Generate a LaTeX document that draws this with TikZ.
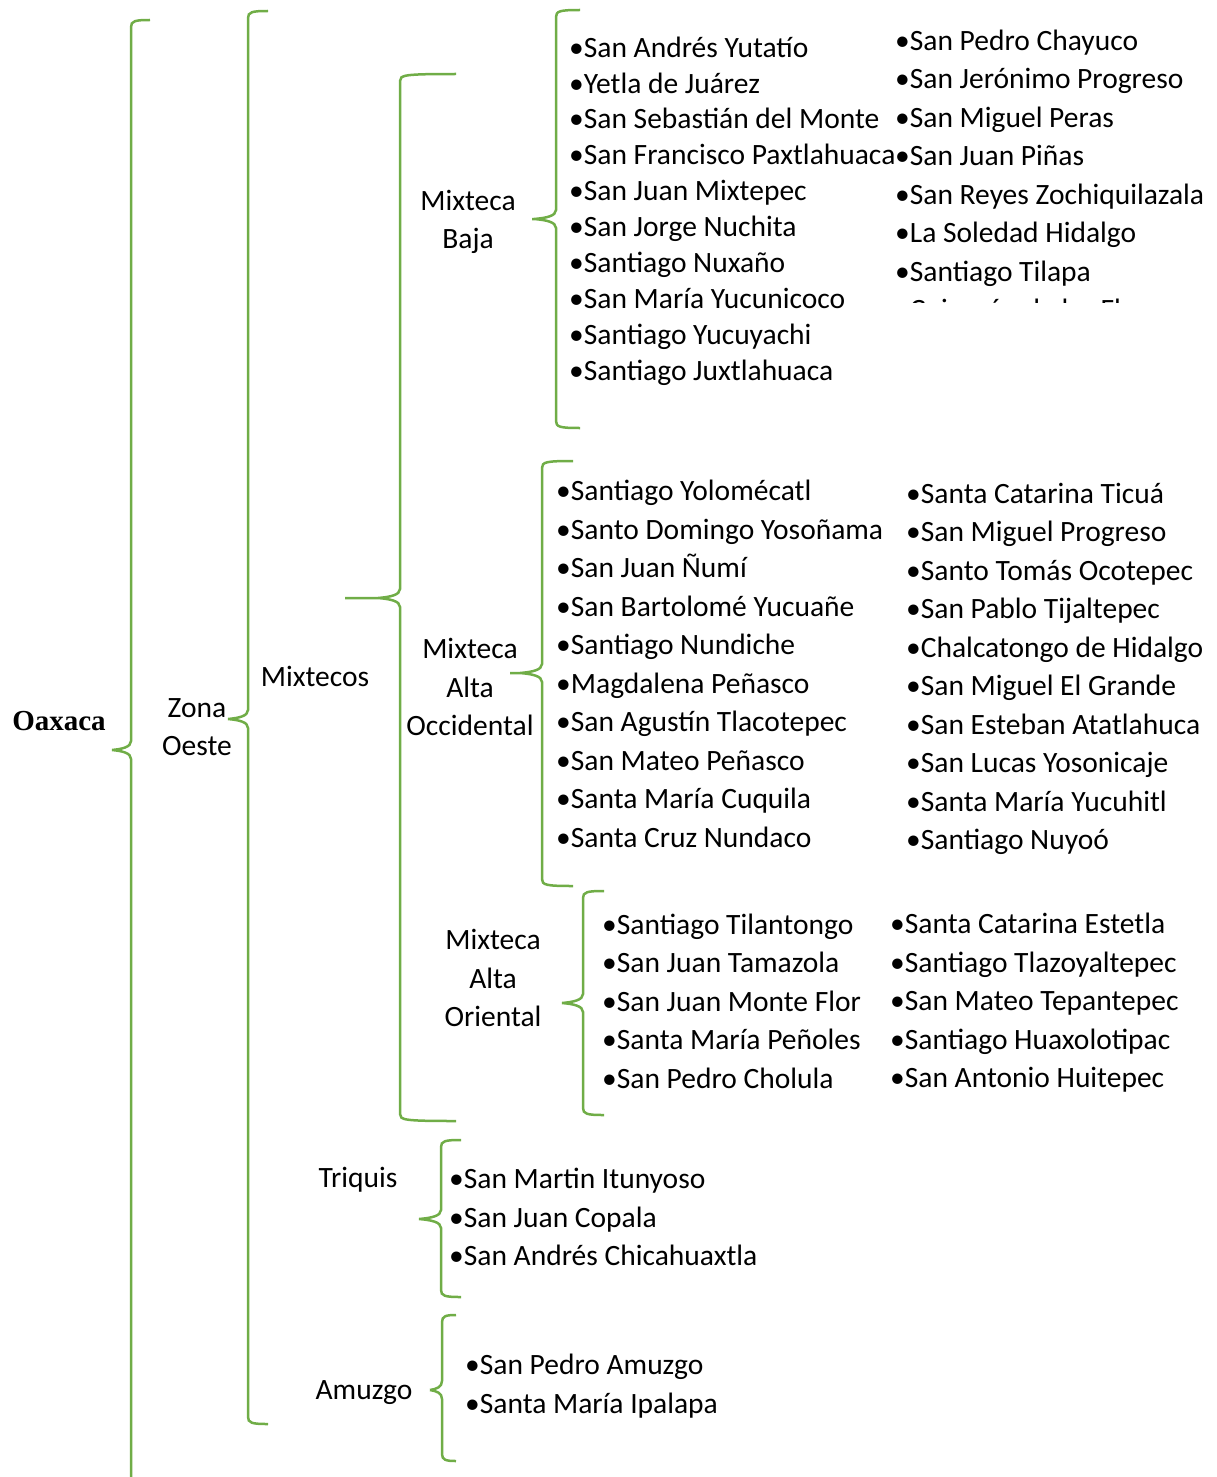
\documentclass[tikz,border=0pt]{standalone}
\usepackage{fontspec}
\setmainfont{Carlito}
\newfontfamily\serifbold{Liberation Serif}
\usetikzlibrary{positioning}
\definecolor{llaveverde}{RGB}{112,173,71}
% brace: name, x, top, tip y, bottom, hook end x, tip x
\newcommand{\llave}[7]{%
  \pgfmathsetmacro\llc{min(22,#2-#7)}%
  \coordinate (#1) at (#7,#4);
  \draw[llave] (#6,#3) .. controls ({#2+4},#3) and (#2,{#3+1}) .. (#2,{#3+7})
    -- (#2,{#4-9}) .. controls (#2,{#4-3}) and ({#2-0.45*\llc},{#4-1}) .. ({#2-\llc},#4)
    -- (#1)
    ({#2-\llc},#4) .. controls ({#2-0.45*\llc},{#4+1}) and (#2,{#4+3}) .. (#2,{#4+9})
    -- (#2,{#5-7}) .. controls (#2,{#5-1}) and ({#2+4},#5) .. (#6,#5);}

\begin{document}
\begin{tikzpicture}[x=1pt,y=-1pt,
    llave/.style={draw=llaveverde,line width=2.5pt},
    etiqueta/.style={align=center,inner sep=0pt,font=\fontsize{29.5}{38.5}\selectfont},
    lista/.style={anchor=west,align=left,inner sep=0pt,font=\fontsize{29.5}{38.5}\selectfont}]
  \useasboundingbox (0,0) rectangle (1216,1477);

  % braces
  \llave{oax}{131}{20}{750}{1500}{150}{112}
  \llave{zona}{248}{11}{719}{1424}{268}{228}
  \llave{mix}{400}{74}{598}{1121}{456}{345}
  \llave{baja}{556}{10}{219}{428}{580}{532}
  \llave{occ}{542}{461}{673}{886}{573}{510}
  \llave{ori}{583}{891}{1003}{1115}{604}{562}
  \llave{tri}{441}{1140}{1219}{1297}{461}{419}
  \llave{amu}{442}{1315}{1390}{1461}{456}{430}

  % labels
  \node[etiqueta,font=\fontsize{29}{35}\bfseries\serifbold] (oaxaca) at (59,721) {Oaxaca};
  \node[etiqueta] (zonaoeste) at (197,727) {Zona\\Oeste};
  \node[etiqueta] (mixtecos) at (315,676) {Mixtecos};
  \node[etiqueta] (mbaja) at (468,222) {Mixteca\\Baja};
  \node[etiqueta] (mocc) at (470,687) {Mixteca\\Alta\\Occidental};
  \node[etiqueta] (mori) at (493,978) {Mixteca\\Alta\\Oriental};
  \node[etiqueta] (triquis) at (358,1180) {Triquis};
  \node[etiqueta] (amuzgo) at (364,1393) {Amuzgo};

  % municipios
  \node[lista,font=\fontsize{29.5}{35.9}\selectfont] (bajaA) at (569,211) {%
    •San Andrés Yutatío\\•Yetla de Juárez\\•San Sebastián del Monte\\
    •San Francisco Paxtlahuaca\\•San Juan Mixtepec\\•San Jorge Nuchita\\
    •Santiago Nuxaño\\•San María Yucunicoco\\•Santiago Yucuyachi\\
    •Santiago Juxtlahuaca};
  \begin{scope}
    \clip (880,0) rectangle (1216,302);
    \node[lista] (bajaB) at (895,177) {%
      •San Pedro Chayuco\\•San Jerónimo Progreso\\•San Miguel Peras\\
      •San Juan Piñas\\•San Reyes Zochiquilazala\\•La Soledad Hidalgo\\
      •Santiago Tilapa\\•Coicoyán de las Flores};
  \end{scope}
  \node[lista] (occA) at (556,664) {%
    •Santiago Yolomécatl\\•Santo Domingo Yosoñama\\•San Juan Ñumí\\
    •San Bartolomé Yucuañe\\•Santiago Nundiche\\•Magdalena Peñasco\\
    •San Agustín Tlacotepec\\•San Mateo Peñasco\\•Santa María Cuquila\\
    •Santa Cruz Nundaco};
  \node[lista] (occB) at (906,669) {%
    •Santa Catarina Ticuá\\•San Miguel Progreso\\•Santo Tomás Ocotepec\\
    •San Pablo Tijaltepec\\•Chalcatongo de Hidalgo\\•San Miguel El Grande\\
    •San Esteban Atatlahuca\\•San Lucas Yosonicaje\\•Santa María Yucuhitl\\
    •Santiago Nuyoó};
  \node[lista] (oriA) at (602,1001) {%
    •Santiago Tilantongo\\•San Juan Tamazola\\•San Juan Monte Flor\\
    •Santa María Peñoles\\•San Pedro Cholula};
  \node[lista] (oriB) at (890,1003) {%
    •Santa Catarina Estetla\\•Santiago Tlazoyaltepec\\•San Mateo Tepantepec\\
    •Santiago Huaxolotipac\\•San Antonio Huitepec};
  \node[lista] (triA) at (449,1217) {%
    •San Martin Itunyoso\\•San Juan Copala\\•San Andrés Chicahuaxtla};
  \node[lista] (amuA) at (465,1386) {%
    •San Pedro Amuzgo\\•Santa María Ipalapa};
\end{tikzpicture}
\end{document}
